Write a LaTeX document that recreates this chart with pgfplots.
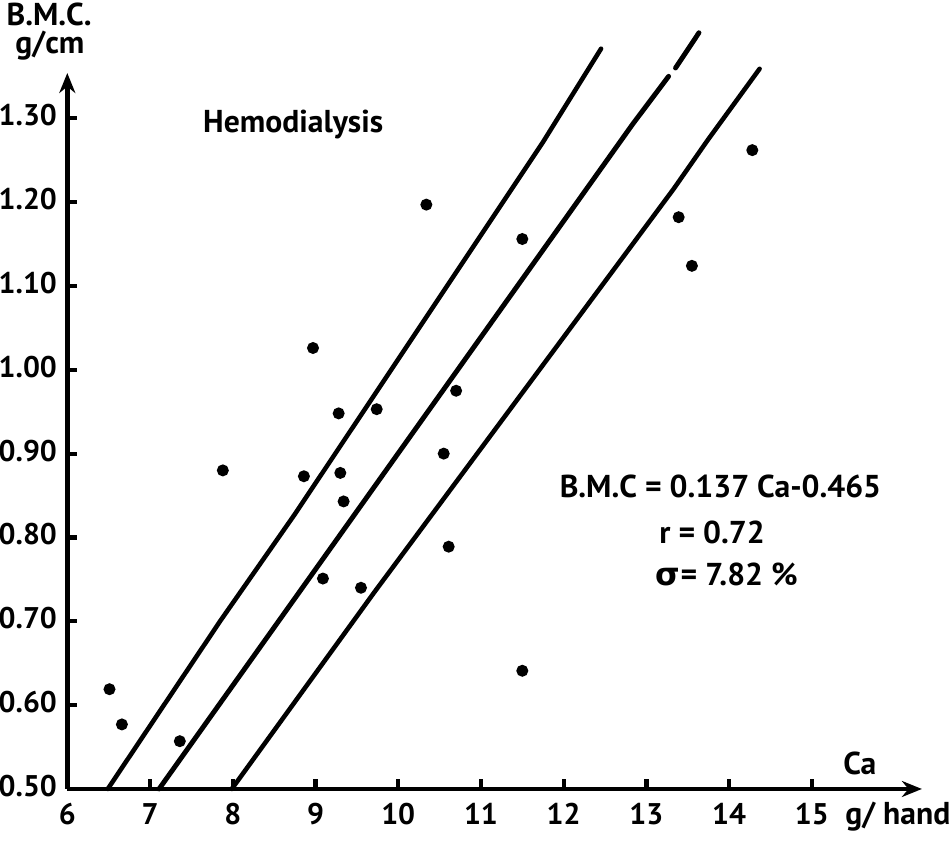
\documentclass[border=0pt]{standalone}
\usepackage{fontspec}
\setmainfont{PT Sans}
\newfontfamily\greekfont{DejaVu Sans}
\usepackage{pgfplots}
\pgfplotsset{compat=1.18}
\usetikzlibrary{arrows.meta}

% Hemodialysis: bone mineral content against total hand calcium
\pgfplotstableread{
ca     bmc
6.51   0.619
6.66   0.577
7.36   0.557
7.88   0.880
8.86   0.873
8.97   1.026
9.28   0.948
9.30   0.877
9.34   0.843
9.09   0.751
9.55   0.740
9.74   0.953
10.34  1.197
10.55  0.900
10.70  0.975
10.61  0.789
11.50  1.156
11.50  0.641
13.39  1.182
13.55  1.124
14.28  1.262
}\patients

\begin{document}
\begin{tikzpicture}[font=\bfseries\fontsize{9}{11}\selectfont]
\begin{axis}[
  at={(0,0)}, anchor=south west,
  scale only axis,
  width=8.546cm, height=7.16cm,
  xmin=6, xmax=16.33, ymin=0.5, ymax=1.354,
  axis lines=left,
  axis line style={line width=1.3pt, -{Stealth[length=0.2cm,width=0.16cm]}},
  xtick={6,7,8,9,10,11,12,13,14,15},
  xticklabels={6,7,8,9,10,11,12,13,14,15},
  ytick={0.5,0.6,0.7,0.8,0.9,1.0,1.1,1.2,1.3},
  yticklabels={0.50,0.60,0.70,0.80,0.90,1.00,1.10,1.20,1.30},
  tick align=inside,
  major tick length=0.1cm,
  tick style={black, line width=1.2pt},
  tick label style={font=\bfseries\fontsize{8.5}{10}\selectfont},
  xticklabel style={yshift=-0.02cm},
  yticklabel style={yshift=0.03cm, xshift=0.02cm},
  clip=false,
]
\addplot[only marks, mark=*, mark size=1.5pt, black] table[x=ca, y=bmc] {\patients};

% regression line (drawn with a small break near the top, as in the figure)
\addplot[line width=1.4pt, line cap=round] coordinates {
  (7.109,0.5) (12.834,1.293) (13.268,1.350)
};
\addplot[line width=1.4pt, line cap=round] coordinates {
  (13.352,1.360) (13.635,1.402)
};
% upper and lower limits
\addplot[line width=1.3pt, line cap=round] coordinates {
  (6.489,0.5) (7.853,0.701) (8.759,0.829) (11.746,1.271) (12.452,1.383)
};
\addplot[line width=1.3pt, line cap=round] coordinates {
  (7.988,0.5) (9.706,0.734) (13.331,1.216) (13.741,1.274) (14.368,1.359)
};

% short inward tick marks on both axes (both ends given in axis units)
\pgfplotsinvokeforeach{7,8,9,10,11,12,13,14,15}{
  \draw[line width=1.2pt] (axis cs:#1,0.5) -- (axis cs:#1,0.512);
}
\pgfplotsinvokeforeach{0.6,0.7,0.8,0.9,1.0,1.1,1.2,1.3}{
  \draw[line width=1.2pt] (axis cs:6,#1) -- (axis cs:6.12,#1);
}

\node at (axis cs:5.78,1.424) {B.M.C.};
\node at (axis cs:5.79,1.387) {g/cm};
\node at (axis cs:15.58,0.530) {Ca};
\node at (axis cs:16.04,0.4675) {g/ hand};
\node at (axis cs:8.73,1.2925) {Hemodialysis};
\node at (axis cs:13.895,0.861) {B.M.C = 0.137 Ca-0.465};
\node at (axis cs:13.794,0.806) {r = 0.72};
\node at (axis cs:13.972,0.756) {{\greekfont\bfseries σ}= 7.82 \%};
\end{axis}
\pgfresetboundingbox
\path[use as bounding box] (-0.673,-0.55) rectangle (8.847,7.89);
\end{tikzpicture}
\end{document}
